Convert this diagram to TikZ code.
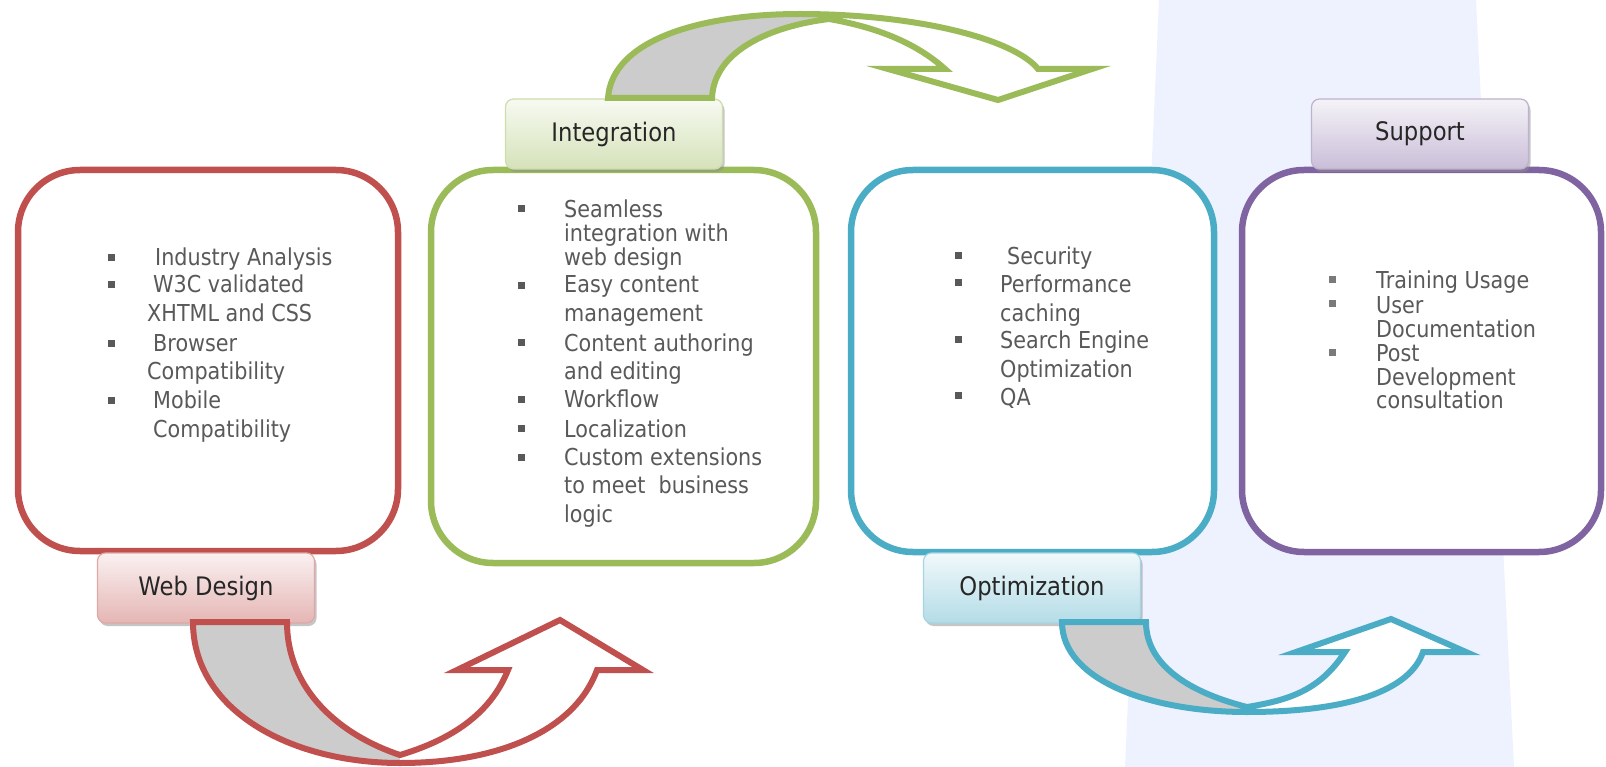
\documentclass[tikz,border=0pt]{standalone}
\usepackage{fontspec}
\setmainfont{DejaVu Sans}[FakeStretch=0.89]
\usepackage{tikz}
\usetikzlibrary{shadows}

\definecolor{wdred}{HTML}{C0504D}
\definecolor{intgreen}{HTML}{9BBB59}
\definecolor{optblue}{HTML}{4BACC6}
\definecolor{suppurple}{HTML}{8064A2}
\definecolor{bandblue}{HTML}{EEF2FE}
\definecolor{txtgray}{HTML}{595959}
\definecolor{backgray}{HTML}{CCCCCC}
\definecolor{tagtext}{HTML}{262626}

\begin{document}
\begin{tikzpicture}[x=1pt, y=-1pt,
	boxline/.style={line width=6.5pt, rounded corners=62pt, fill=white},
	arrowline/.style={line width=6pt, line join=miter},
	tagbox/.style={draw, line width=1.2pt, rounded corners=8pt, minimum width=217pt, minimum height=70pt, inner sep=0pt, text=tagtext, font=\fontsize{25.5pt}{30pt}\selectfont, drop shadow={shadow xshift=2pt, shadow yshift=-3pt, fill=black!45, opacity=.5}},
	item/.style={anchor=base west, inner sep=0pt, text=txtgray, font=\fontsize{23.3pt}{28pt}\selectfont},
	bul/.style={fill=txtgray}]

	\useasboundingbox (0,0) rectangle (1606,767);
	% Background band %
	\fill[bandblue] (1159,0) -- (1476,0) -- (1514,767) -- (1125,767) -- cycle;

	% Boxes %
	\draw[wdred, boxline] (18,170) rectangle (398,551);
	\draw[intgreen, boxline] (431,170) rectangle (816,563);
	\draw[optblue, boxline] (851,170) rectangle (1214,552);
	\draw[suppurple, boxline] (1242,170) rectangle (1601,552);

	% Tags %
	\node[tagbox, draw=wdred!50, top color=wdred!8, bottom color=wdred!42] (webdesign) at (206,588) {Web Design};
	\node[tagbox, draw=intgreen!50, top color=intgreen!8, bottom color=intgreen!42] (integration) at (614,134) {Integration};
	\node[tagbox, draw=optblue!50, top color=optblue!8, bottom color=optblue!42] (optimization) at (1032,588) {Optimization};
	\node[tagbox, draw=suppurple!50, top color=suppurple!8, bottom color=suppurple!42] (support) at (1420,134) {Support};

	% Web Design list %
	\foreach \n/\x/\y/\t in {1/155/266/Industry Analysis, 2/153/293/W3C validated, 3/147/322/XHTML and CSS, 4/153/351/Browser, 5/147/379/Compatibility, 6/153/408/Mobile, 7/153/437/Compatibility}
		\node[item] (wd\n) at (\x,\y) {\t};
	\foreach \y in {258, 285, 343, 400} \fill[bul] (111,\y) +(-3.5,-3.5) rectangle +(3.5,3.5);

	% Integration list %
	\foreach \n/\y/\t in {1/218/Seamless, 2/242/integration with, 3/266/web design, 4/293/Easy content, 5/322/management, 6/351/Content authoring, 7/379/and editing, 8/407/Workflow, 9/437/Localization, 10/465/Custom extensions, 11/493/{to meet\ \ business}, 12/522/logic}
		\node[item] (in\n) at (564,\y) {\t};
	\foreach \y in {209, 286, 342, 399, 428, 457} \fill[bul] (521,\y) +(-3.5,-3.5) rectangle +(3.5,3.5);

	% Optimization list %
	\foreach \n/\x/\y/\t in {1/1007/265/Security, 2/1000/293/Performance, 3/1000/321/caching, 4/1000/348/Search Engine, 5/1000/377/Optimization, 6/1000/405/QA}
		\node[item] (op\n) at (\x,\y) {\t};
	\foreach \y in {256, 283, 339, 395} \fill[bul] (958,\y) +(-3.5,-3.5) rectangle +(3.5,3.5);

	% Support list %
	\foreach \n/\y/\t in {1/289/Training Usage, 2/313/User, 3/337/Documentation, 4/361/Post, 5/385/Development, 6/408/consultation}
		\node[item] (su\n) at (1376,\y) {\t};
	\foreach \y in {280, 304, 352} \fill[bul, txtgray!80] (1332,\y) +(-3.5,-3.5) rectangle +(3.5,3.5);

	% Red arrow %
	\fill[backgray] (193,622) .. controls (193,710) and (290,763) .. (400,763) -- (400,755) .. controls (340,735) and (287,690) .. (287,622) -- cycle;
	\fill[white] (400,763) .. controls (500,763) and (575,730) .. (597,670) -- (643,670) -- (560,620) -- (457,670) -- (508,670) .. controls (490,715) and (450,740) .. (400,755) -- cycle;
	\draw[wdred, arrowline] (287,622) -- (193,622) .. controls (193,710) and (290,763) .. (400,763) .. controls (500,763) and (575,730) .. (597,670) -- (643,670) -- (560,620) -- (457,670) -- (508,670) .. controls (490,715) and (450,740) .. (400,755) .. controls (340,735) and (287,690) .. (287,622) -- cycle;

	% Green arrow %
	\fill[backgray] (608,98) .. controls (612,40) and (700,14) .. (800,14) -- (829,19) .. controls (772,26) and (714,50) .. (712,98) -- cycle;
	\fill[white] (800,14) .. controls (920,14) and (1015,40) .. (1038,69) -- (1092,69) -- (998,100) -- (888,69) -- (945,69) .. controls (915,42) and (875,27) .. (829,19) -- cycle;
	\draw[intgreen, arrowline] (712,98) -- (608,98) .. controls (612,40) and (700,14) .. (800,14) .. controls (920,14) and (1015,40) .. (1038,69) -- (1092,69) -- (998,100) -- (888,69) -- (945,69) .. controls (915,42) and (875,27) .. (829,19) .. controls (772,26) and (714,50) .. (712,98) -- cycle;

	% Blue arrow %
	\fill[backgray] (1062,622) .. controls (1062,680) and (1150,712) .. (1247,712) -- (1247,707) .. controls (1180,690) and (1146,660) .. (1146,622) -- cycle;
	\fill[white] (1247,712) .. controls (1350,712) and (1410,690) .. (1423,652) -- (1466,652) -- (1391,619) -- (1296,652) -- (1345,652) .. controls (1320,690) and (1290,700) .. (1247,707) -- cycle;
	\draw[optblue, arrowline] (1146,622) -- (1062,622) .. controls (1062,680) and (1150,712) .. (1247,712) .. controls (1350,712) and (1410,690) .. (1423,652) -- (1466,652) -- (1391,619) -- (1296,652) -- (1345,652) .. controls (1320,690) and (1290,700) .. (1247,707) .. controls (1180,690) and (1146,660) .. (1146,622) -- cycle;
\end{tikzpicture}
\end{document}
